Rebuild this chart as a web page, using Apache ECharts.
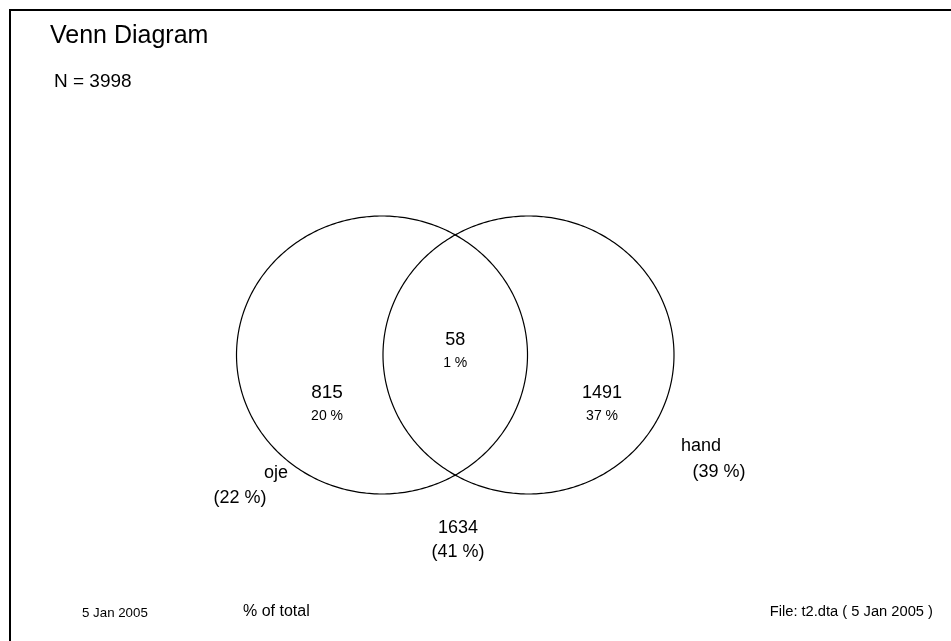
<!DOCTYPE html>
<html>
<head>
<meta charset="utf-8">
<script src="https://cdn.jsdelivr.net/npm/echarts@6/dist/echarts.min.js"></script>
<style>html,body{margin:0;padding:0;background:#fff;}#c{width:951px;height:641px;}</style>
</head>
<body>
<div id="c"></div>
<script>
// ---- data ----
var setNames = ['oje', 'hand'];
var onlyCounts = [815, 1491];     // oje only, hand only
var bothCount = 58;               // intersection
var neitherCount = 1634;          // outside both
var totalN = 3998;
var titleText = 'Venn Diagram';
var footerLeft = '5 Jan 2005';
var footerMid = '% of total';
var footerRight = 'File: t2.dta ( 5 Jan 2005 )';

// ---- layout (data units of hidden axes) ----
var circleLayout = [
  { cx: -0.5034, cy: 0, rx: 1, ry: 1 },
  { cx: 0.5034, cy: 0, rx: 1, ry: 1 }
];
function pct(v) { return Math.round(v / totalN * 100); }

var FONT = "'Liberation Sans', Arial, Helvetica, sans-serif";
var labels = [
  // [x, y, text, fontSize]
  [0, 0.108, String(bothCount), 18],
  [0, -0.058, pct(bothCount) + ' %', 14],
  [-0.881, -0.273, String(onlyCounts[0]), 19],
  [-0.881, -0.439, pct(onlyCounts[0]) + ' %', 14],
  [1.009, -0.273, String(onlyCounts[1]), 18],
  [1.009, -0.439, pct(onlyCounts[1]) + ' %', 14],
  [-1.232, -0.849, setNames[0], 18],
  [-1.479, -1.029, '(' + pct(onlyCounts[0] + bothCount) + ' %)', 18],
  [1.689, -0.655, setNames[1], 18],
  [1.813, -0.842, '(' + pct(onlyCounts[1] + bothCount) + ' %)', 18],
  [0.019, -1.245, String(neitherCount), 18],
  [0.019, -1.417, '(' + pct(neitherCount) + ' %)', 18]
];

var chart = echarts.init(document.getElementById('c'));
chart.setOption({
  animation: false,
  backgroundColor: '#fff',
  grid: { left: 18.75, width: 873, top: 77, height: 556 },
  xAxis: { type: 'value', min: -3, max: 3, show: false },
  yAxis: { type: 'value', min: -2, max: 2, show: false },
  graphic: [
    { type: 'rect', shape: { x: 10, y: 10, width: 960, height: 660 },
      style: { fill: 'none', stroke: '#000', lineWidth: 2 } },
    { type: 'text', x: 50, y: 36, style: { text: titleText, font: '25px ' + FONT, fill: '#000', textVerticalAlign: 'middle' } },
    { type: 'text', x: 54, y: 82, style: { text: 'N = ' + totalN, font: '19px ' + FONT, fill: '#000', textVerticalAlign: 'middle' } },
    { type: 'text', x: 82, y: 613, style: { text: footerLeft, font: '13.3px ' + FONT, fill: '#000', textVerticalAlign: 'middle' } },
    { type: 'text', x: 243, y: 612, style: { text: footerMid, font: '16px ' + FONT, fill: '#000', textVerticalAlign: 'middle' } },
    { type: 'text', x: 933, y: 612, style: { text: footerRight, font: '14.7px ' + FONT, fill: '#000', textAlign: 'right', textVerticalAlign: 'middle' } }
  ],
  series: [
    {
      type: 'custom',
      coordinateSystem: 'cartesian2d',
      data: circleLayout.map(function (c) { return [c.cx, c.cy, c.rx, c.ry]; }),
      renderItem: function (params, api) {
        var c = api.coord([api.value(0), api.value(1)]);
        var s = api.size([api.value(2), api.value(3)]);
        var pts = [];
        for (var i = 0; i < 360; i++) {
          var a = i * Math.PI / 180;
          pts.push([c[0] + s[0] * Math.cos(a), c[1] + s[1] * Math.sin(a)]);
        }
        return { type: 'polygon', shape: { points: pts },
          style: { fill: 'none', stroke: '#000', lineWidth: 1.2 } };
      },
      silent: true
    },
    {
      type: 'custom',
      coordinateSystem: 'cartesian2d',
      data: labels,
      renderItem: function (params, api) {
        var d = labels[params.dataIndex];
        var p = api.coord([d[0], d[1]]);
        return { type: 'text', x: p[0], y: p[1],
          style: { text: d[2], font: d[3] + 'px ' + FONT, fill: '#000', textAlign: 'center', textVerticalAlign: 'middle' } };
      },
      silent: true
    }
  ]
});
</script>
</body>
</html>
